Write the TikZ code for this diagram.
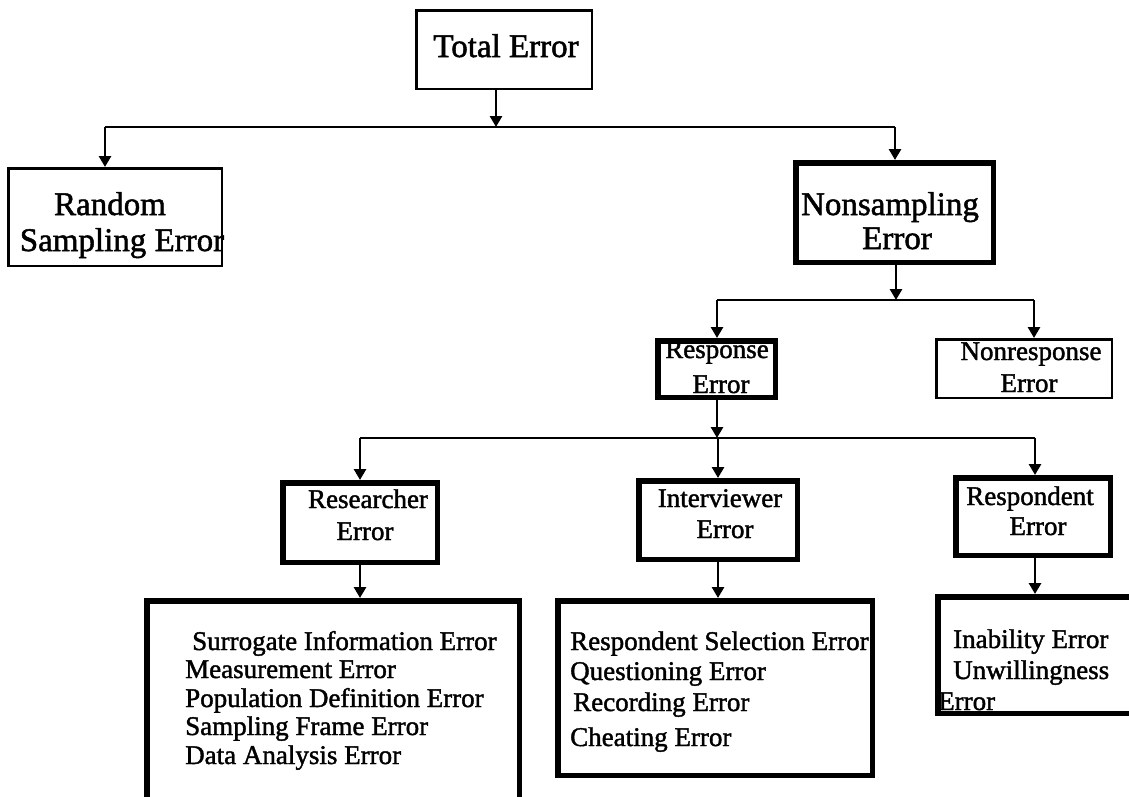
\documentclass[tikz,border=0pt]{standalone}
\usepackage{fontspec}
\setmainfont{Liberation Serif}[FakeBold=1.5]
\usetikzlibrary{arrows.meta}
\tikzset{
  thinbox/.style={draw, line width=2.5pt, inner sep=0pt},
  thickbox/.style={draw, line width=5.5pt, inner sep=0pt},
  conn/.style={line width=2.8pt},
  arr/.style={line width=2.8pt, -{Triangle[width=12pt,length=11pt]}},
  big/.style={inner sep=0pt, anchor=base, font=\fontsize{33}{36}\selectfont},
  mid/.style={inner sep=0pt, anchor=base, font=\fontsize{27}{30}\selectfont},
  item/.style={inner sep=0pt, anchor=base west, font=\fontsize{27}{30}\selectfont},
}
\begin{document}
\begin{tikzpicture}[x=1pt,y=-1pt]
\useasboundingbox (0,0) rectangle (1129,796);
\clip (0,0) rectangle (1129,796);

% labels
\node[big] (tTot) at (506,57) {Total Error};
\node[big] (tRse1) at (110,215) {Random};
\node[big] (tRse2) at (122,251) {Sampling Error};
\node[big] (tNse1) at (890,215) {Nonsampling};
\node[big] (tNse2) at (897,249) {Error};
\node[mid] (tRsp1) at (717,358) {Response};
\node[mid] (tRsp2) at (721,393) {Error};
\node[mid] (tNrs1) at (1031,360) {Nonresponse};
\node[mid] (tNrs2) at (1029,392) {Error};
\node[mid] (tRsr1) at (368,508) {Researcher};
\node[mid] (tRsr2) at (365,540) {Error};
\node[mid] (tItv1) at (720,507) {Interviewer};
\node[mid] (tItv2) at (725,538) {Error};
\node[mid] (tRsd1) at (1030,505) {Respondent};
\node[mid] (tRsd2) at (1038,535) {Error};

\node[item] (a1) at (192,650) {Surrogate Information Error};
\node[item] (a2) at (185,678) {Measurement Error};
\node[item] (a3) at (185,707) {Population Definition Error};
\node[item] (a4) at (185,735) {Sampling Frame Error};
\node[item] (a5) at (185,764) {Data Analysis Error};

\node[item] (b1) at (570,650) {Respondent Selection Error};
\node[item] (b2) at (570,680) {Questioning Error};
\node[item] (b3) at (573,711) {Recording Error};
\node[item] (b4) at (570,746) {Cheating Error};

\node[item] (c1) at (953,648) {Inability Error};
\node[item] (c2) at (953,679) {Unwillingness};
\node[item] (c3) at (938,710) {Error};

% boxes
\node[thinbox, minimum width=175.5pt, minimum height=78.5pt] (tot) at (504,49.5) {};
\node[thinbox, minimum width=213.5pt, minimum height=97.5pt] (rse) at (115,217) {};
\node[thickbox, minimum width=197.5pt, minimum height=99.5pt] (nse) at (894.5,212.5) {};
\node[thickbox, minimum width=117.5pt, minimum height=56.5pt] (rsp) at (716.5,369) {};
\node[thinbox, minimum width=175.5pt, minimum height=58.5pt] (nrs) at (1024,368.5) {};
\node[thickbox, minimum width=154.5pt, minimum height=79.5pt] (rsr) at (360,522.5) {};
\node[thickbox, minimum width=158.5pt, minimum height=78.5pt] (itv) at (718,520) {};
\node[thickbox, minimum width=154.5pt, minimum height=77.5pt] (rsd) at (1033,516.5) {};
\node[thickbox, minimum width=372.5pt, minimum height=206.5pt] (l1) at (333,704) {};
\node[thickbox, minimum width=314.5pt, minimum height=174.5pt] (l2) at (715,688) {};
\node[thickbox, minimum width=199.5pt, minimum height=116.5pt] (l3) at (1037.5,655) {};

% junction points
\coordinate (j0) at (496,127);
\coordinate (j0L) at (105,127);
\coordinate (j0R) at (895,127);
\coordinate (j1) at (896,300);
\coordinate (j1L) at (717,300);
\coordinate (j1R) at (1034,300);
\coordinate (j2) at (717,438);
\coordinate (j2L) at (360,438);
\coordinate (j2M) at (718,438);
\coordinate (j2R) at (1035,438);

% connectors
\draw[arr] (j0 |- tot.south) -- (j0);
\draw[conn] (j0L) -- (j0R);
\draw[arr] (j0L) -- (j0L |- rse.north);
\draw[arr] (j0R) -- (j0R |- nse.north);

\draw[arr] (j1 |- nse.south) -- (j1);
\draw[conn] (j1L) -- (j1R);
\draw[arr] (j1L) -- (j1L |- rsp.north);
\draw[arr] (j1R) -- (j1R |- nrs.north);

\draw[arr] (j2 |- rsp.south) -- (j2);
\draw[conn] (j2L) -- (j2R);
\draw[arr] (j2L) -- (j2L |- rsr.north);
\draw[arr] (j2M) -- (j2M |- itv.north);
\draw[arr] (j2R) -- (j2R |- rsd.north);

\draw[arr] (rsr.south) -- (rsr.south |- l1.north);
\draw[arr] (itv.south) -- (itv.south |- l2.north);
\draw[arr] (j2R |- rsd.south) -- (j2R |- l3.north);
\end{tikzpicture}
\end{document}
